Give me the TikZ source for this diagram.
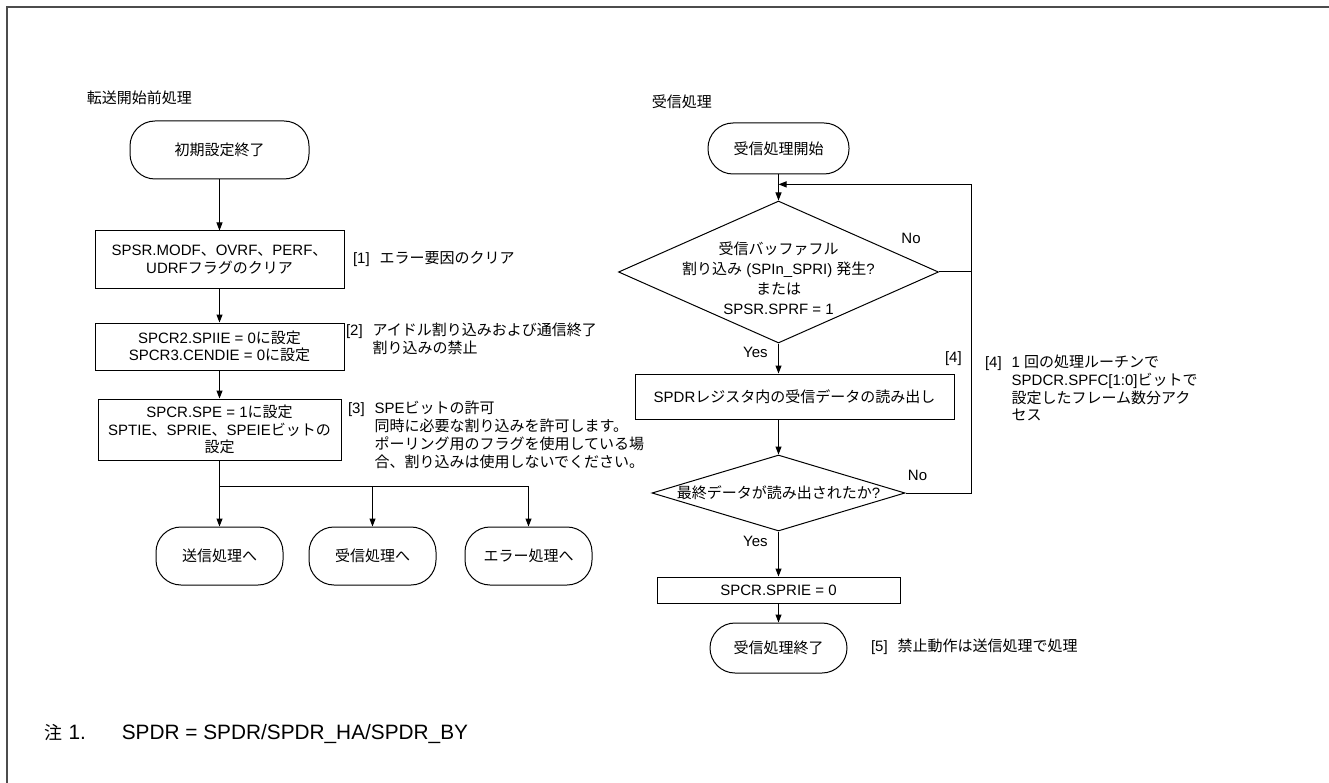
\documentclass[tikz,border=0pt]{standalone}
\usepackage{fontspec}
\setmainfont{Liberation Sans}
\newfontfamily\jp{Noto Sans CJK JP}
\usetikzlibrary{arrows.meta, positioning, shapes.geometric, calc}

% Japanese runs switch to the CJK font by themselves
\XeTeXinterchartokenstate=1
\newXeTeXintercharclass\jpchars
\newcount\cjkc
\def\setjp#1#2{\cjkc=#1 \loop\ifnum\cjkc<#2 \XeTeXcharclass\cjkc=\jpchars \advance\cjkc by 1 \repeat}
\setjp{"3000}{"3100}
\setjp{"4E00}{"A000}
\setjp{"FF00}{"FFF0}
\XeTeXinterchartoks 0 \jpchars = {\begingroup\jp}
\XeTeXinterchartoks 4095 \jpchars = {\begingroup\jp}
\XeTeXinterchartoks \jpchars 0 = {\endgroup}
\XeTeXinterchartoks \jpchars 4095 = {\endgroup}

\newcommand{\stepnote}[2]{#1\hspace{10pt}\begin{tabular}[t]{@{}l@{}}#2\end{tabular}}

\begin{document}
\begin{tikzpicture}[x=1pt, y=-1pt, >={Triangle[length=8pt, width=6pt]}, line width=1pt,
  font=\fontsize{15}{17.5}\selectfont,
  term/.style={rectangle, draw, rounded corners=25pt, minimum height=58pt, inner sep=2pt},
  proc/.style={rectangle, draw, align=center, inner sep=2pt},
  decision/.style={diamond, draw, inner sep=0pt},
  remark/.style={anchor=north west, inner sep=0pt}]

\useasboundingbox (0,0) rectangle (1329,783);
\draw[line width=2pt, black!70] (7,783) -- (7,7.5) -- (1329,7.5);

% before transfer
\node[anchor=west] (ttlA) at (83,98) {転送開始前処理};
\node[term, minimum width=179pt] (init) at (219.5,150) {初期設定終了};
\node[proc, minimum width=249pt, minimum height=58pt, below=51pt of init] (clr) {SPSR.MODF、OVRF、PERF、\\UDRFフラグのクリア};
\node[proc, minimum width=249pt, minimum height=47pt, below=33pt of clr] (dis) {SPCR2.SPIIE = 0に設定\\SPCR3.CENDIE = 0に設定};
\node[proc, minimum width=243pt, minimum height=61pt, below=28pt of dis] (ena) {SPCR.SPE = 1に設定\\SPTIE、SPRIE、SPEIEビットの\\設定};
\node[term, minimum width=127pt, below=66pt of ena] (tosend) {送信処理へ};
\node[term, minimum width=127pt, right=25pt of tosend] (torecv) {受信処理へ};
\node[term, minimum width=127pt, right=28pt of torecv] (toerr) {エラー処理へ};
\coordinate (split) at ($(ena.south)!0.4!(tosend.north)$);

\node[right=8pt of clr, inner sep=0pt] (n1) {\stepnote{[1]}{エラー要因のクリア}};
\node[remark] (n2) at ([xshift=1pt]dis.north east) {\stepnote{[2]}{アイドル割り込みおよび通信終了\\割り込みの禁止}};
\node[remark] (n3) at ([xshift=6pt, yshift=-2pt]ena.north east) {\stepnote{[3]}{SPEビットの許可\\同時に必要な割り込みを許可します。\\ポーリング用のフラグを使用している場\\合、割り込みは使用しないでください。}};

\draw[->] (init) -- (clr);
\draw[->] (clr) -- (dis);
\draw[->] (dis) -- (ena);
\draw[->] (ena) -- (tosend);
\draw[->] (split) -| (torecv);
\draw[->] (split) -| (toerr);

% receive
\node[anchor=west] (ttlB) at (648,102) {受信処理};
\node[term, minimum width=141pt, minimum height=51pt] (start) at (778.5,148.5) {受信処理開始};
\node[decision, minimum width=320pt, minimum height=142pt, below=26pt of start,
  label={[align=center, yshift=-6pt, font=\fontsize{15}{20}\selectfont]center:{受信バッファフル\\割り込み (SPIn\_SPRI) 発生?\\または\\SPSR.SPRF = 1}}] (full) {};
\node[proc, minimum width=319pt, minimum height=45pt, below=30pt of full, xshift=16pt] (read) {SPDRレジスタ内の受信データの読み出し};
\node[decision, minimum width=253pt, minimum height=76pt, below=35pt of read, xshift=-16pt,
  label={center:{最終データが読み出されたか?}}] (last) {};
\node[proc, minimum width=243pt, minimum height=26pt, below=45pt of last] (rie) {SPCR.SPRIE = 0};
\node[term, minimum width=137pt, minimum height=50pt, below=19pt of rie] (stop) {受信処理終了};

\node (no1) at ([xshift=-28pt, yshift=34pt]full.east) {No};
\node (no2) at ([xshift=12pt, yshift=18pt]last.east) {No};
\node[anchor=east] (r4) at ([xshift=11pt, yshift=15pt]read.north east) {[4]};
\node[remark] (n4) at ([xshift=30pt, yshift=19pt]read.north east) {\stepnote{[4]}{1 回の処理ルーチンで\\SPDCR.SPFC[1:0]ビットで\\設定したフレーム数分アク\\セス}};
\node[right=23pt of stop, inner sep=0pt] (n5) {\stepnote{[5]}{禁止動作は送信処理で処理}};

\coordinate (loopin) at ($(start.south)!0.38!(full.north)$);
\draw[->] (start) -- (full);
\draw[->] (full.south) -- node[left=7pt, pos=0.3] {Yes} (full.south |- read.north);
\draw[->] (read.south -| full.south) -- (last.north);
\draw[->] (last.south) -- node[left=7pt, pos=0.22] {Yes} (rie.north);
\draw[->] (rie) -- (stop);
\draw (full.east) -- ++(32pt,0) coordinate (rt);
\draw[->] (last.east) -| (rt) |- (loopin);

\node[anchor=west, inner sep=0pt, font=\fontsize{20.8}{24}\selectfont] (fn) at (44,734) {{\fontsize{18}{20}\selectfont 注}\hspace{6pt}1.\hspace{36pt}SPDR = SPDR/SPDR\_HA/SPDR\_BY};

\end{tikzpicture}
\end{document}
